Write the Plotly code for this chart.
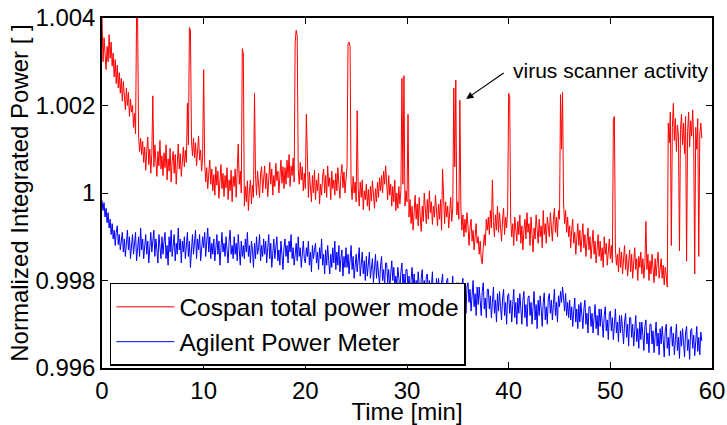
import numpy as np
import plotly.graph_objects as go

# Sampling of both recordings (minutes)
t_start = 0.0
t_step = 0.1

# Cospan total power mode: deviation from 1 in units of 1e-5 (one row = 1 minute)
cospan_dev = [
    400, 300, 355, 315, 282, 335, 300, 362, 308, 345,
    290, 320, 265, 305, 250, 292, 240, 275, 228, 262,
    210, 255, 225, 190, 240, 200, 230, 175, 215, 185,
    200, 150, 182, 135, 405, 402, 130, 95, 125, 88,
    118, 70, 105, 52, 95, 128, 65, 100, 45, 90,
    222, 60, 110, 75, 38, 95, 62, 120, 55, 85,
    40, 92, 58, 110, 30, 78, 50, 102, 25, 72,
    95, 45, 88, 20, 75, 112, 55, 90, 38, 80,
    105, 60, 98, 70, 205, 110, 378, 372, 120, 85,
    125, 80, 115, 62, 100, 130, 75, 98, 50, 85,
    282, 70, 25, 58, 10, 48, 75, 20, 55, 5,
    42, -5, 60, 18, 50, -12, 35, 65, 10, 45,
    -8, 40, 12, 58, -15, 30, 5, 52, -20, 38,
    15, 55, -10, 40, 112, 20, 50, 0, 330, 318,
    -30, 15, -20, 28, -40, 5, 30, -25, 18, -10,
    228, 40, -5, 50, 15, -10, 45, 60, 0, 35,
    62, 10, 45, -8, 38, 70, 20, 55, -5, 40,
    15, 68, 28, 50, 0, 45, 75, 22, 60, 10,
    58, 20, 75, 35, 88, 15, 62, 40, 80, 25,
    345, 372, 360, 55, 20, 70, 30, 60, 5, 45,
    10, 180, 35, -10, 48, 15, -20, 40, 0, 52,
    -15, 30, 5, 45, -25, 20, -5, 38, 55, 0,
    40, -10, 62, 15, 35, -15, 50, 10, 30, -5,
    45, 5, 58, 20, -12, 40, 65, 12, 48, 0,
    35, 60, 340, 345, 335, 20, -15, 38, 0, 25,
    -20, 188, 10, -30, 25, -10, 30, -38, 5, -15,
    20, -30, 8, -40, 15, -18, 28, -5, -35, 10,
    -20, 25, -10, 35, 5, 40, 0, 50, 20, 62,
    25, -15, 40, -5, 20, -30, 15, -20, 30, -40,
    0, -35, 15, -25, 5, 262, 20, 268, -30, 5,
    -20, 180, -55, -15, -70, -30, -85, -40, -5, -60,
    -25, -75, -10, -55, -88, -30, -65, 0, -45, -70,
    -15, -60, 5, -45, -20, -72, -30, -55, -5, -40,
    -75, -25, -60, -15, -85, 55, -40, -70, -20, -55,
    -30, -80, -45, -10, -65, -35, 240, 60, 258, -50,
    -20, -60, 212, -35, -85, -50, -100, -60, -90, -45,
    -75, -120, -80, -60, -110, -85, -130, -90, -70, -115,
    -100, -140, -110, -150, -162, -125, -95, -120, -60, -85,
    -55, -95, -40, -80, 30, -65, -100, -50, -85, -30,
    -90, -45, -75, -110, -60, -35, -95, -55, -80, -40,
    228, 220, -60, -100, -70, -120, -55, -90, -110, -65,
    -95, -50, -115, -75, -130, -85, -60, -105, -45, -90,
    -70, -120, -55, -95, -135, -80, -105, -50, -90, -115,
    -60, -100, -75, -125, -40, -95, -70, -115, -55, -85,
    -100, -45, -80, -110, -60, -35, -90, -55, -100, -40,
    -60, 225, 100, 230, -25, -70, -40, -90, -55, -100,
    -75, -125, -85, -60, -115, -90, -140, -95, -70, -120,
    -85, -135, -100, -70, -125, -95, -145, -110, -80, -130,
    -100, -150, -115, -85, -140, -110, -160, -125, -95, -145,
    -110, -155, -125, -170, -100, -140, -115, -165, -130, -105,
    -150, -120, -160, 170, 175, -130, -165, -140, -180, -125,
    -170, -135, -185, -150, -120, -175, -140, -190, -155, -130,
    -180, -140, -195, -160, -125, -175, -150, -200, -145, -170,
    -135, -185, -150, -195, -160, -65, -175, -140, -200, -155,
    -185, -140, -175, -205, -150, -190, -160, -135, -195, -165,
    -150, -195, -165, -210, -170, -190, -215, 160, 115, 185,
    -120, 150, 205, 120, 170, 95, 155, 130, -132, 145,
    180, 110, 160, 90, 175, -156, 140, 185, 105, 165,
    130, 190, 120, -185, 150, 100, 170, -145, 135, 160,
    125,
]

# Agilent Power Meter: deviation from 1 in units of 1e-5 (one row = 1 minute)
agilent_dev = [
    -17, -40, -22, -55, -35, -68, -45, -80, -60, -95,
    -70, -105, -85, -120, -90, -75, -118, -95, -130, -100,
    -90, -135, -105, -145, -115, -85, -130, -100, -150, -110,
    -95, -140, -115, -90, -155, -125, -100, -145, -80, -130,
    -105, -150, -120, -95, -140, -110, -160, -125, -90, -135,
    -115, -85, -145, -105, -130, -160, -95, -125, -150, -100,
    -140, -110, -90, -150, -120, -165, -100, -135, -85, -145,
    -120, -95, -155, -115, -140, -80, -130, -105, -160, -110,
    -135, -100, -150, -120, -90, -145, -110, -170, -125, -95,
    -140, -115, -85, -150, -105, -130, -95, -155, -120, -100,
    -125, -90, -145, -110, -80, -135, -100, -150, -115, -140,
    -105, -155, -120, -95, -140, -110, -165, -125, -90, -135,
    -115, -145, -100, -130, -160, -110, -85, -140, -120, -150,
    -100, -140, -115, -155, -95, -130, -165, -110, -145, -120,
    -150, -105, -135, -90, -145, -120, -160, -110, -130, -170,
    -115, -150, -100, -140, -125, -95, -155, -120, -145, -105,
    -140, -110, -160, -125, -95, -150, -115, -170, -130, -105,
    -150, -120, -100, -155, -130, -165, -110, -140, -175, -125,
    -105, -145, -120, -160, -110, -135, -95, -150, -125, -165,
    -140, -115, -155, -100, -145, -125, -170, -130, -110, -150,
    -160, -125, -145, -110, -165, -135, -180, -120, -150, -130,
    -115, -160, -135, -175, -125, -150, -105, -165, -140, -185,
    -130, -165, -120, -155, -185, -140, -170, -125, -160, -110,
    -175, -135, -165, -120, -180, -150, -130, -190, -145, -170,
    -125, -170, -140, -185, -155, -120, -175, -145, -195, -160,
    -140, -180, -150, -125, -190, -165, -135, -185, -155, -200,
    -145, -190, -160, -135, -195, -170, -150, -205, -165, -140,
    -195, -155, -185, -210, -165, -145, -200, -175, -215, -160,
    -160, -205, -175, -220, -185, -155, -200, -170, -215, -190,
    -210, -170, -195, -225, -180, -160, -215, -185, -230, -175,
    -175, -220, -190, -235, -200, -170, -215, -185, -240, -200,
    -225, -180, -210, -245, -195, -175, -230, -200, -250, -190,
    -185, -230, -200, -250, -215, -180, -240, -210, -255, -195,
    -235, -195, -225, -260, -205, -185, -245, -215, -265, -200,
    -195, -240, -210, -260, -225, -190, -250, -220, -270, -205,
    -245, -205, -235, -265, -210, -195, -255, -225, -275, -215,
    -205, -250, -220, -270, -235, -200, -260, -230, -280, -215,
    -255, -215, -245, -280, -225, -205, -265, -240, -285, -220,
    -220, -265, -235, -285, -250, -215, -275, -245, -295, -230,
    -270, -225, -260, -290, -240, -220, -280, -250, -300, -235,
    -230, -275, -245, -295, -255, -220, -285, -250, -300, -240,
    -275, -230, -265, -300, -245, -225, -285, -255, -305, -240,
    -235, -280, -250, -300, -260, -225, -290, -255, -310, -245,
    -280, -235, -265, -305, -250, -228, -290, -260, -300, -240,
    -230, -275, -245, -290, -255, -220, -280, -250, -295, -235,
    -260, -225, -250, -215, -240, -270, -230, -280, -250, -285,
    -245, -290, -260, -305, -270, -240, -295, -265, -310, -255,
    -295, -250, -280, -310, -265, -245, -300, -275, -320, -260,
    -260, -305, -275, -320, -285, -255, -310, -280, -325, -265,
    -305, -265, -295, -330, -280, -260, -315, -290, -335, -275,
    -270, -315, -285, -335, -300, -265, -320, -295, -340, -280,
    -320, -280, -310, -345, -295, -275, -330, -300, -350, -285,
    -285, -330, -300, -350, -315, -280, -340, -310, -355, -295,
    -335, -295, -325, -360, -305, -290, -345, -320, -365, -300,
    -300, -345, -315, -365, -330, -295, -350, -320, -370, -310,
    -345, -305, -335, -375, -315, -300, -355, -330, -372, -310,
    -305, -350, -320, -370, -335, -300, -360, -330, -378, -315,
    -350, -310, -340, -375, -320, -305, -360, -335, -380, -315,
    -310, -355, -325, -372, -340, -305, -362, -330, -370, -318,
    -338,
]

series_names = ["Cospan total power mode", "Agilent Power Meter"]
series_colors = ["#FF0000", "#0000FF"]

y_ticks = [0.996, 0.998, 1.0, 1.002, 1.004]
y_tick_text = ["0.996", "0.998", "1", "1.002", "1.004"]
x_ticks = [0, 10, 20, 30, 40, 50, 60]

annotation_text = "virus scanner activity"
arrow_target = (35.82, 1.00215)
text_anchor = (40.2, 1.00281)

cospan = 1 + np.array(cospan_dev) * 1e-5
agilent = 1 + np.array(agilent_dev) * 1e-5
t_cospan = t_start + t_step * np.arange(len(cospan))
t_agilent = t_start + t_step * np.arange(len(agilent))

FONT = "Liberation Sans, Arial, sans-serif"

fig = go.Figure()
fig.add_trace(go.Scatter(x=t_cospan, y=cospan, mode="lines", name=series_names[0],
                         line=dict(color=series_colors[0], width=1)))
fig.add_trace(go.Scatter(x=t_agilent, y=agilent, mode="lines", name=series_names[1],
                         line=dict(color=series_colors[1], width=1)))

axis_common = dict(showline=True, linecolor="black", linewidth=1.5, mirror="ticks",
                   ticks="inside", ticklen=6, tickcolor="black", tickwidth=1,
                   showgrid=False, zeroline=False, automargin=False,
                   tickfont=dict(family=FONT, size=24, color="black"))

fig.update_xaxes(range=[0, 60], tickvals=x_ticks,
                 title=dict(text="Time [min]", font=dict(family=FONT, size=24, color="black"), standoff=12),
                 **axis_common)
fig.update_yaxes(range=[0.996, 1.004], tickvals=y_ticks, ticktext=y_tick_text,
                 title=dict(text="Normalized Integrated Power [ ]", font=dict(family=FONT, size=24, color="black"), standoff=0),
                 **axis_common)

fig.add_annotation(x=arrow_target[0], y=arrow_target[1], text="", showarrow=True,
                   ax=39, ay=-27, arrowhead=2, arrowsize=1.2, arrowwidth=1.2, arrowcolor="black")
fig.add_annotation(x=text_anchor[0], y=text_anchor[1], text=annotation_text, showarrow=False,
                   xanchor="left", yanchor="middle",
                   font=dict(family=FONT, size=21, color="black"))

fig.update_layout(
    width=727, height=425,
    margin=dict(l=102, r=15, t=18, b=57),
    paper_bgcolor="white", plot_bgcolor="white",
    showlegend=True,
    legend=dict(x=0.013, y=0.006, xanchor="left", yanchor="bottom",
                bgcolor="white", bordercolor="black", borderwidth=1.5,
                font=dict(family=FONT, size=24.5, color="black"),
                itemwidth=58, tracegroupgap=0),
)

fig.write_html("out.html")
